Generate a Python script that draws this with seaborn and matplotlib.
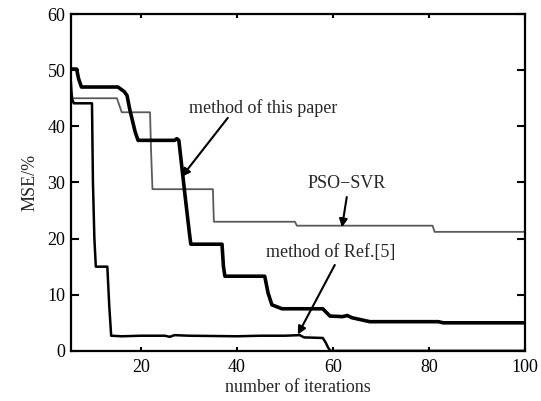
import matplotlib
matplotlib.use("Agg")
import matplotlib.pyplot as plt
import seaborn as sns

# ---- data ----
ref5_x = [5.4, 5.6, 6.0, 9.8, 10.0, 10.3, 10.6, 13.0, 13.4, 13.8, 16, 20, 25, 26, 27,
          30, 40, 45, 50, 53.1, 54, 57.9, 58.5, 59.0, 59.5, 100]
ref5_y = [48, 45, 44.1, 44.1, 30, 20, 15, 15, 8, 2.7, 2.6, 2.7, 2.7, 2.5, 2.8,
          2.7, 2.6, 2.7, 2.7, 2.8, 2.4, 2.3, 1.5, 0.6, 0, 0]

paper_x = [5.4, 6.6, 7.0, 7.6, 15.2, 16.5, 17.1, 17.7, 18.8, 19.4, 27.0, 27.5, 27.9,
           28.6, 29.3, 30.1, 30.4, 36.9, 37.2, 37.5, 45.8, 46.5, 47.3, 49.4, 57.9,
           59.4, 62, 63, 64, 67.7, 82, 83, 100]
paper_y = [50.2, 50.2, 48.5, 47.0, 47.0, 46.2, 45.5, 42.9, 39, 37.5, 37.5, 37.8, 37.5,
           32.2, 26.9, 21, 19, 19, 15, 13.3, 13.3, 10.3, 8.2, 7.5, 7.5,
           6.2, 6.1, 6.3, 5.9, 5.2, 5.2, 5.0, 5.0]

pso_x = [5.4, 5.8, 15.0, 15.6, 16.0, 21.9, 22.1, 22.4, 35.0, 35.2, 52.1, 52.5, 80.8, 81.2, 100]
pso_y = [46.5, 45.0, 45.0, 43.5, 42.5, 42.5, 36, 28.8, 28.8, 23.0, 23.0, 22.3, 22.3, 21.2, 21.2]

x_ticks = [20, 40, 60, 80, 100]
y_ticks = [0, 10, 20, 30, 40, 50, 60]

# ---- style ----
sns.set_style("ticks")
plt.rcParams["font.family"] = ["Liberation Serif", "DejaVu Serif"]
plt.rcParams["font.size"] = 13

fig = plt.figure(figsize=(5.41, 4.01), dpi=100)
ax = fig.add_axes([0.131, 0.125, 0.839, 0.840])

sns.lineplot(x=pso_x, y=pso_y, ax=ax, sort=False, estimator=None,
             color="#5a5a5a", linewidth=1.3)
sns.lineplot(x=ref5_x, y=ref5_y, ax=ax, sort=False, estimator=None,
             color="black", linewidth=1.8)
sns.lineplot(x=paper_x, y=paper_y, ax=ax, sort=False, estimator=None,
             color="black", linewidth=2.6)

ax.set_xlim(5.4, 100)
ax.set_ylim(0, 60)
ax.set_xticks(x_ticks)
ax.set_yticks(y_ticks)
ax.tick_params(axis="both", direction="in", top=True, right=True,
               labelsize=13, colors="black", width=1.5)
ax.tick_params(axis="x", length=3, pad=6)
ax.tick_params(axis="y", length=6, pad=4)
for s in ax.spines.values():
    s.set_linewidth(1.6)
    s.set_color("black")

ax.set_xlabel("number of iterations", fontsize=13, labelpad=2)
ax.set_ylabel("MSE/%", fontsize=13, labelpad=6)

# ---- annotations ----
arrow = dict(arrowstyle="-|>", color="black", lw=1.5, mutation_scale=12,
             shrinkA=0, shrinkB=0)
ax.text(45.4, 43.2, "method of this paper", ha="center", va="center", fontsize=13)
ax.annotate("", xy=(28.5, 31.0), xytext=(38.1, 41.5), arrowprops=arrow)
ax.text(62.9, 29.9, "PSO\u2212SVR", ha="center", va="center", fontsize=13)
ax.annotate("", xy=(61.9, 22.0), xytext=(62.9, 27.4), arrowprops=arrow)
ax.text(59.6, 17.6, "method of Ref.[5]", ha="center", va="center", fontsize=13)
ax.annotate("", xy=(52.7, 2.9), xytext=(60.4, 15.3), arrowprops=arrow)

plt.savefig("out.png", dpi=100)
